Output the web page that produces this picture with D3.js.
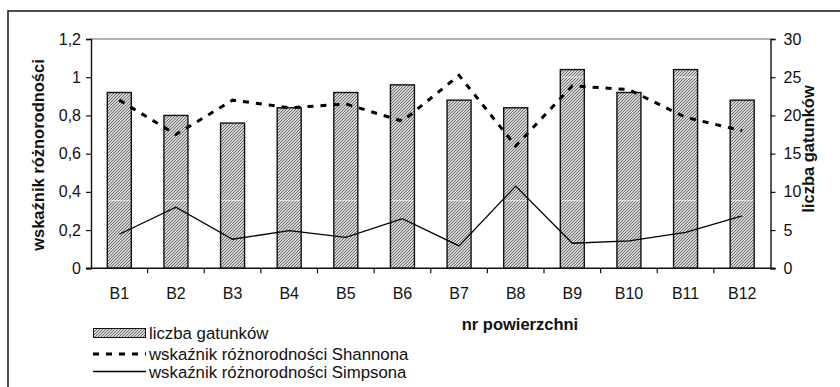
<!DOCTYPE html>
<html><head><meta charset="utf-8">
<script src="https://cdn.jsdelivr.net/npm/d3@7"></script>
<style>body{margin:0;background:#fff}svg{display:block;font-family:"Liberation Sans",Arial,sans-serif}</style>
</head><body><svg id="c" width="840" height="387"></svg>
<script>
const categories = ["B1","B2","B3","B4","B5","B6","B7","B8","B9","B10","B11","B12"];
const speciesCount = [23,20,19,21,23,24,22,21,26,23,26,22];
const shannon = [0.88,0.70,0.88,0.84,0.86,0.77,1.01,0.64,0.955,0.935,0.79,0.72];
const simpson = [0.178,0.32,0.152,0.197,0.162,0.26,0.117,0.43,0.131,0.143,0.188,0.274];
const leftTicks = [0,0.2,0.4,0.6,0.8,1,1.2];
const rightTicks = [0,5,10,15,20,25,30];
const legendLabels = ["liczba gatunków","wskaźnik różnorodności Shannona","wskaźnik różnorodności Simpsona"];

const svg = d3.select("#c");
const L = 91, R = 770.5, T = 39, B = 268.3;
const x = d3.scaleBand().domain(categories).range([L, R]).paddingInner(0).paddingOuter(0);
const yL = d3.scaleLinear().domain([0,1.2]).range([B, T]);
const yR = d3.scaleLinear().domain([0,30]).range([B, T]);
const fmt = d => String(d).replace(".", ",");
const FS = 16, FSL = 16.8, FST = 16.5;

// pattern
const defs = svg.append("defs");
const pat = defs.append("pattern").attr("id","hatch").attr("patternUnits","userSpaceOnUse")
  .attr("width",3).attr("height",3);
pat.append("rect").attr("width",3).attr("height",3).attr("fill","#d6d6d6");
pat.append("path").attr("d","M-1,1 l2,-2 M0,3 l3,-3 M2,4 l2,-2").attr("stroke","#6a6a6a").attr("stroke-width",1);

// outer border
svg.append("rect").attr("x",8).attr("y",11).attr("width",900).attr("height",420)
  .attr("fill","none").attr("stroke","#222").attr("stroke-width",1.6);

// plot top border
svg.append("line").attr("x1",L).attr("x2",R).attr("y1",T).attr("y2",T).attr("stroke","#999").attr("stroke-width",1.3);

// bars
const bw = 24;
const bx = i => x(categories[i]) + x.bandwidth()/2 - bw/2;
svg.append("g").selectAll("rect").data(speciesCount).join("rect")
  .attr("x",(d,i)=>bx(i))
  .attr("y",d=>yR(d)).attr("width",bw).attr("height",d=>B - yR(d))
  .attr("fill","url(#hatch)").attr("stroke","#111").attr("stroke-width",1.4);
// faint white artefact lines across bars
speciesCount.forEach((d,i)=>{
  [yL(0.354), yR(25)].forEach(yy=>{
    if (yR(d) < yy-1) svg.append("line")
      .attr("x1",bx(i)+1).attr("x2",bx(i)+bw-1)
      .attr("y1",yy).attr("y2",yy).attr("stroke","#fff").attr("stroke-width",0.8).attr("opacity",0.9);
  });
});

// lines
const cx = c => x(c) + x.bandwidth()/2;
svg.append("path").datum(shannon)
  .attr("d", d3.line().x((d,i)=>cx(categories[i])).y(d=>yL(d)))
  .attr("fill","none").attr("stroke","#000").attr("stroke-width",3).attr("stroke-dasharray","6,7");
svg.append("path").datum(simpson)
  .attr("d", d3.line().x((d,i)=>cx(categories[i])).y(d=>yL(d)))
  .attr("fill","none").attr("stroke","#000").attr("stroke-width",1.3);

// axes
const axL = svg.append("g").attr("transform",`translate(${L},0)`)
  .call(d3.axisLeft(yL).tickValues(leftTicks).tickFormat(fmt).tickSize(5).tickPadding(5));
const axR = svg.append("g").attr("transform",`translate(${R},0)`)
  .call(d3.axisRight(yR).tickValues(rightTicks).tickSize(5).tickPadding(8));
const axB = svg.append("g").attr("transform",`translate(0,${B})`)
  .call(d3.axisBottom(x).tickSize(0).tickPadding(19));
[axL,axR,axB].forEach(a=>{
  a.select(".domain").attr("stroke","#111").attr("stroke-width",1.4);
  a.selectAll(".tick line").attr("stroke","#111").attr("stroke-width",1.2);
  a.selectAll("text").attr("font-size",FS).attr("fill","#111").attr("font-family","Liberation Sans, Arial, sans-serif");
});
axB.select(".domain").attr("d",`M${L-5},0H${R+5}`);
// category boundary ticks
svg.append("g").selectAll("line").data(categories.slice(1)).join("line")
  .attr("x1",d=>x(d)).attr("x2",d=>x(d)).attr("y1",B).attr("y2",B+5)
  .attr("stroke","#111").attr("stroke-width",1.2);

// axis titles
svg.append("text").attr("transform",`translate(44,155) rotate(-90)`).attr("text-anchor","middle")
  .attr("font-size",FST).attr("font-weight","bold").attr("fill","#111").text("wskaźnik różnorodności");
svg.append("text").attr("transform",`translate(814,149) rotate(-90)`).attr("text-anchor","middle")
  .attr("font-size",FST).attr("font-weight","bold").attr("fill","#111").text("liczba gatunków");
svg.append("text").attr("x",520).attr("y",330).attr("text-anchor","middle")
  .attr("font-size",FST).attr("font-weight","bold").attr("fill","#111").text("nr powierzchni");

// legend
const lg = svg.append("g");
const rows = [333, 354, 371.5];
lg.append("rect").attr("x",93.5).attr("y",rows[0]-4.5).attr("width",52).attr("height",9)
  .attr("fill","url(#hatch)").attr("stroke","#111").attr("stroke-width",1);
lg.append("line").attr("x1",93).attr("x2",146).attr("y1",rows[1]).attr("y2",rows[1])
  .attr("stroke","#000").attr("stroke-width",3).attr("stroke-dasharray","6,7");
lg.append("line").attr("x1",93).attr("x2",146).attr("y1",rows[2]).attr("y2",rows[2])
  .attr("stroke","#000").attr("stroke-width",1.3);
lg.selectAll("text").data(legendLabels).join("text")
  .attr("x",149).attr("y",(d,i)=>rows[i]+6).attr("font-size",FSL).attr("fill","#111").text(d=>d);
</script></body></html>
